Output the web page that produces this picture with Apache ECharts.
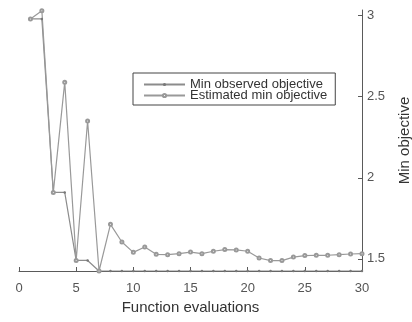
<!DOCTYPE html>
<html>
<head>
<meta charset="utf-8">
<script src="https://cdn.jsdelivr.net/npm/echarts@6/dist/echarts.min.js"></script>
<style>
  html, body { margin: 0; padding: 0; background: #fff; }
  #main { width: 412px; height: 322px; }
</style>
</head>
<body>
<div id="main"></div>
<script>
var evals = [];
for (var i = 1; i <= 30; i++) evals.push(i);

// min observed objective per evaluation
var observed = [2.98, 2.98, 1.91, 1.91, 1.49, 1.49, 1.425, 1.425, 1.425, 1.425,
    1.425, 1.425, 1.425, 1.425, 1.425, 1.425, 1.425, 1.425, 1.425, 1.425,
    1.425, 1.425, 1.425, 1.425, 1.425, 1.425, 1.425, 1.425, 1.425, 1.425];
// estimated min objective per evaluation
var estimated = [2.98, 3.03, 1.91, 2.59, 1.49, 2.35, 1.425, 1.713, 1.604, 1.54,
    1.573, 1.528, 1.526, 1.532, 1.542, 1.532, 1.547, 1.557, 1.555, 1.547,
    1.505, 1.489, 1.489, 1.511, 1.52, 1.522, 1.522, 1.526, 1.53, 1.532];
var yTicks = [1.5, 2, 2.5, 3];

function pairs(ys) {
    return ys.map(function (y, k) { return [evals[k], y]; });
}

var font = 'Liberation Sans, Arial, sans-serif';
var lineCol = '#8c8c8c';
var axisCol = '#5a5a5a';

var option = {
    animation: false,
    backgroundColor: '#fff',
    grid: { left: 19, right: 50, top: 10, bottom: 51, containLabel: false, outerBoundsMode: 'none' },
    legend: {
        orient: 'vertical',
        left: 133, top: 73,
        padding: [5, 8, 3, 10],
        itemWidth: 41, itemHeight: 4, itemGap: -2,
        backgroundColor: '#fff',
        borderColor: '#444', borderWidth: 1, borderRadius: 0,
        textStyle: { fontFamily: font, fontSize: 13, color: '#333' },
        data: ['Min observed objective', 'Estimated min objective']
    },
    xAxis: {
        type: 'value', min: 0, max: 30, interval: 5,
        name: 'Function evaluations', nameLocation: 'middle', nameGap: 29,
        nameTextStyle: { fontFamily: font, fontSize: 15, color: '#333' },
        axisLine: { lineStyle: { color: axisCol, width: 1 } },
        axisTick: { inside: true, length: 4, lineStyle: { color: axisCol } },
        axisLabel: { fontFamily: font, fontSize: 13, color: '#555', margin: 11 },
        splitLine: { show: false }
    },
    yAxis: {
        type: 'value', position: 'right', min: 1.425, max: 3.035,
        name: 'Min objective', nameLocation: 'middle', nameGap: 35,
        nameTextStyle: { fontFamily: font, fontSize: 15, color: '#333' },
        axisLine: { show: true, onZero: false, lineStyle: { color: axisCol, width: 1 } },
        axisTick: { inside: true, length: 4, customValues: yTicks, lineStyle: { color: axisCol } },
        axisLabel: { fontFamily: font, fontSize: 13, color: '#555', margin: 5, customValues: yTicks },
        splitLine: { show: false }
    },
    series: [
        {
            name: 'Min observed objective', type: 'line',
            data: pairs(observed),
            symbol: 'circle', symbolSize: 2.5,
            lineStyle: { color: lineCol, width: 1.2 },
            itemStyle: { color: '#777' }
        },
        {
            name: 'Estimated min objective', type: 'line',
            data: pairs(estimated),
            symbol: 'emptyCircle', symbolSize: 3,
            lineStyle: { color: '#999', width: 1.2 },
            itemStyle: { color: '#999', borderColor: '#777', borderWidth: 1 }
        }
    ]
};

var myChart = echarts.init(document.getElementById('main'));
myChart.setOption(option);
</script>
</body>
</html>
